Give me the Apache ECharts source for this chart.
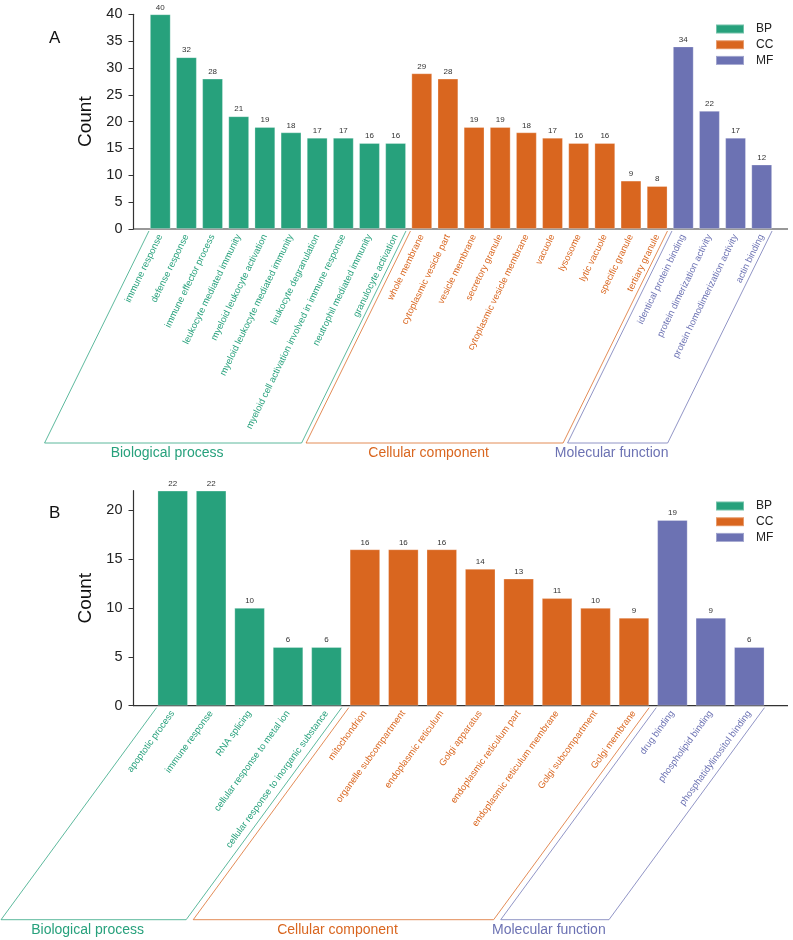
<!DOCTYPE html>
<html>
<head>
<meta charset="utf-8">
<title>GO enrichment</title>
<script src="https://cdn.jsdelivr.net/npm/echarts@6/dist/echarts.min.js"></script>
<style>
  html, body { margin: 0; padding: 0; background: #fff; }
  #chart { width: 793px; height: 940px; }
</style>
</head>
<body>
<div id="chart"></div>
<script>
// 分组
var groupNames = ['BP', 'CC', 'MF'];
var groupTitles = ['Biological process', 'Cellular component', 'Molecular function'];
var groupColors = ['#27a17c', '#d9661f', '#6c72b3'];

// A
var aBPNames = ['immune response', 'defense response', 'immune effector process', 'leukocyte mediated immunity',
  'myeloid leukocyte activation', 'myeloid leukocyte mediated immunity', 'leukocyte degranulation',
  'myeloid cell activation involved in immune response', 'neutrophil mediated immunity', 'granulocyte activation'];
var aBPCounts = [40, 32, 28, 21, 19, 18, 17, 17, 16, 16];
var aCCNames = ['whole membrane', 'cytoplasmic vesicle part', 'vesicle membrane', 'secretory granule',
  'cytoplasmic vesicle membrane', 'vacuole', 'lysosome', 'lytic vacuole', 'specific granule', 'tertiary granule'];
var aCCCounts = [29, 28, 19, 19, 18, 17, 16, 16, 9, 8];
var aMFNames = ['identical protein binding', 'protein dimerization activity', 'protein homodimerization activity', 'actin binding'];
var aMFCounts = [34, 22, 17, 12];
var aTicks = [0, 5, 10, 15, 20, 25, 30, 35, 40];

// B
var bBPNames = ['apoptotic process', 'immune response', 'RNA splicing', 'cellular response to metal ion',
  'cellular response to inorganic substance'];
var bBPCounts = [22, 22, 10, 6, 6];
var bCCNames = ['mitochondrion', 'organelle subcompartment', 'endoplasmic reticulum', 'Golgi apparatus',
  'endoplasmic reticulum part', 'endoplasmic reticulum membrane', 'Golgi subcompartment', 'Golgi membrane'];
var bCCCounts = [16, 16, 16, 14, 13, 11, 10, 9];
var bMFNames = ['drug binding', 'phospholipid binding', 'phosphatidylinositol binding'];
var bMFCounts = [19, 9, 6];
var bTicks = [0, 5, 10, 15, 20];

var panels = [
  { letter: 'A', names: [aBPNames, aCCNames, aMFNames], counts: [aBPCounts, aCCCounts, aMFCounts],
    ticks: aTicks, max: 40, left: 147.2, right: 774.8, top: 14.3, bottom: 229, rotate: 64, letterTop: 30, legendTop: 23 },
  { letter: 'B', names: [bBPNames, bCCNames, bMFNames], counts: [bBPCounts, bCCCounts, bMFCounts],
    ticks: bTicks, max: 22, left: 153.5, right: 768.5, top: 490.7, bottom: 705.7, rotate: 54, letterTop: 505, legendTop: 500 }
];
var axisX = 133.5;
var depth = 214;
var font = 'Liberation Sans, Arial, sans-serif';

var chart = echarts.init(document.getElementById('chart'));

var grids = [], xAxes = [], yAxes = [], series = [], titles = [], legends = [];
panels.forEach(function (p, pi) {
  var cats = [], catGroup = [];
  p.names.forEach(function (arr, g) {
    arr.forEach(function (n) { cats.push(n); catGroup.push(g); });
  });
  p.cats = cats;

  grids.push({ left: p.left, top: p.top, width: p.right - p.left, height: p.bottom - p.top });
  xAxes.push({
    type: 'category', gridIndex: pi, data: cats,
    axisLine: { show: false },
    axisTick: { alignWithLabel: true, length: 4, lineStyle: { color: '#333', width: 1 } },
    axisLabel: {
      interval: 0, rotate: p.rotate, margin: 6, fontSize: 9.4, fontFamily: font,
      color: function (v, i) { return groupColors[catGroup[i]]; }
    }
  });
  yAxes.push({
    type: 'value', gridIndex: pi, min: 0, max: p.max, offset: p.left - axisX,
    splitLine: { show: false },
    axisLine: { show: true, lineStyle: { color: '#333', width: 1.2 } },
    axisTick: { show: true, length: 5, customValues: p.ticks, lineStyle: { color: '#333' } },
    axisLabel: { customValues: p.ticks, fontSize: 14.5, color: '#222', margin: 11, fontFamily: font },
    name: 'Count', nameLocation: 'middle', nameGap: 37,
    nameTextStyle: { fontSize: 19, color: '#111', fontFamily: font }
  });

  var offset = 0;
  p.counts.forEach(function (vals, g) {
    var data = cats.map(function () { return '-'; });
    vals.forEach(function (v, k) { data[offset + k] = v; });
    offset += vals.length;
    series.push({
      type: 'bar', name: groupNames[g], xAxisIndex: pi, yAxisIndex: pi, stack: 'p' + pi,
      barCategoryGap: '21%', data: data,
      itemStyle: { color: groupColors[g], borderColor: 'rgba(255,255,255,0.35)', borderWidth: 0.8 },
      label: { show: true, position: 'top', distance: 3, fontSize: 8, color: '#333', fontFamily: font }
    });
  });

  titles.push({ text: p.letter, left: 49, top: p.letterTop, padding: 0,
    textStyle: { fontSize: 17, fontWeight: 'normal', color: '#111', fontFamily: font } });
  legends.push({
    data: groupNames, orient: 'vertical', left: 715, top: p.legendTop, padding: 0,
    itemWidth: 28, itemHeight: 9, itemGap: 3.7, icon: 'rect',
    textStyle: { fontSize: 12, color: '#222', lineHeight: 12, padding: [0, 0, 0, 7], fontFamily: font }
  });
});

chart.setOption({
  animation: false,
  backgroundColor: '#fff',
  title: titles,
  legend: legends,
  grid: grids,
  xAxis: xAxes,
  yAxis: yAxes,
  series: series
});

// 底部分组框
var graphics = [];
panels.forEach(function (p, pi) {
  var c0 = chart.convertToPixel({ xAxisIndex: pi }, 0);
  var c1 = chart.convertToPixel({ xAxisIndex: pi }, 1);
  var halfBar = (c1 - c0) * 0.79 / 2;
  var yBase = chart.convertToPixel({ yAxisIndex: pi }, 0);
  var shift = depth / Math.tan(p.rotate * Math.PI / 180);
  var top = yBase + 2, bot = yBase + depth;

  graphics.push({
    type: 'line', silent: true,
    shape: { x1: axisX, y1: yBase, x2: 788, y2: yBase },
    style: { stroke: '#333', lineWidth: 1.2 }
  });

  var start = 0;
  p.names.forEach(function (arr, g) {
    var first = chart.convertToPixel({ xAxisIndex: pi }, start);
    var last = chart.convertToPixel({ xAxisIndex: pi }, start + arr.length - 1);
    start += arr.length;
    var xl = first - halfBar - 1, xr = last + halfBar;
    graphics.push({
      type: 'polyline', silent: true,
      shape: { points: [[xl, top], [xl - shift, bot], [xr - shift, bot], [xr, top]] },
      style: { stroke: groupColors[g], lineWidth: 1, fill: null, opacity: 0.75 }
    });
    graphics.push({
      type: 'text', silent: true,
      x: (xl + xr) / 2 - shift - 6, y: bot + 10,
      style: { text: groupTitles[g], fill: groupColors[g], fontSize: 14, fontFamily: font,
        align: 'center', verticalAlign: 'middle' }
    });
  });
});
chart.setOption({ graphic: graphics });
</script>
</body>
</html>
